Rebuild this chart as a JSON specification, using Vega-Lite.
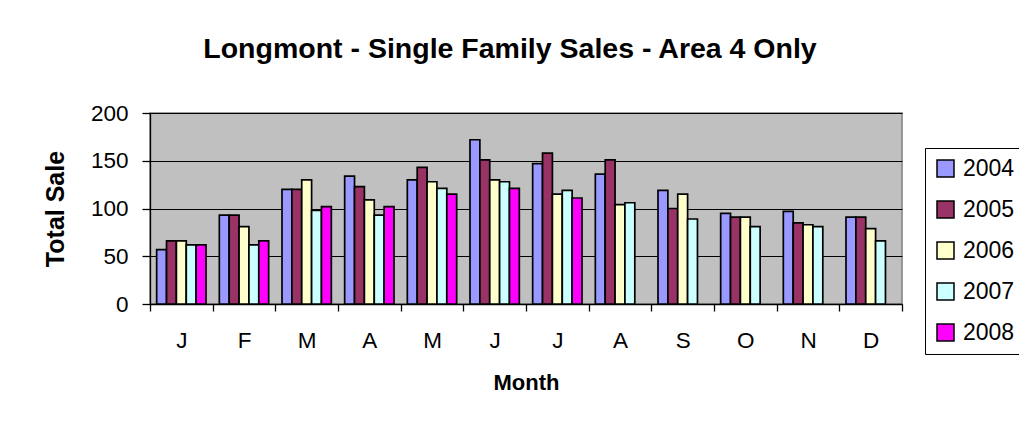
{
  "$schema": "https://vega.github.io/schema/vega-lite/v6.json",
  "autosize": "none",
  "padding": {"left": 150, "top": 113, "right": 117, "bottom": 125},
  "width": 752,
  "height": 191,
  "background": "white",
  "title": {
    "text": "Longmont - Single Family Sales - Area 4 Only",
    "font": "Liberation Sans",
    "fontSize": 28.5,
    "fontWeight": "bold",
    "color": "#000000",
    "anchor": "middle",
    "dx": -16,
    "offset": 39
  },
  "data": {
    "values": [
      {"month": "Jan", "year": "2004", "sales": 57},
      {"month": "Jan", "year": "2005", "sales": 66},
      {"month": "Jan", "year": "2006", "sales": 66},
      {"month": "Jan", "year": "2007", "sales": 62},
      {"month": "Jan", "year": "2008", "sales": 62},
      {"month": "Feb", "year": "2004", "sales": 93},
      {"month": "Feb", "year": "2005", "sales": 93},
      {"month": "Feb", "year": "2006", "sales": 81},
      {"month": "Feb", "year": "2007", "sales": 62},
      {"month": "Feb", "year": "2008", "sales": 66},
      {"month": "Mar", "year": "2004", "sales": 120},
      {"month": "Mar", "year": "2005", "sales": 120},
      {"month": "Mar", "year": "2006", "sales": 130},
      {"month": "Mar", "year": "2007", "sales": 98},
      {"month": "Mar", "year": "2008", "sales": 102},
      {"month": "Apr", "year": "2004", "sales": 134},
      {"month": "Apr", "year": "2005", "sales": 123},
      {"month": "Apr", "year": "2006", "sales": 109},
      {"month": "Apr", "year": "2007", "sales": 93},
      {"month": "Apr", "year": "2008", "sales": 102},
      {"month": "May", "year": "2004", "sales": 130},
      {"month": "May", "year": "2005", "sales": 143},
      {"month": "May", "year": "2006", "sales": 128},
      {"month": "May", "year": "2007", "sales": 121},
      {"month": "May", "year": "2008", "sales": 115},
      {"month": "Jun", "year": "2004", "sales": 172},
      {"month": "Jun", "year": "2005", "sales": 151},
      {"month": "Jun", "year": "2006", "sales": 130},
      {"month": "Jun", "year": "2007", "sales": 128},
      {"month": "Jun", "year": "2008", "sales": 121},
      {"month": "Jul", "year": "2004", "sales": 147},
      {"month": "Jul", "year": "2005", "sales": 158},
      {"month": "Jul", "year": "2006", "sales": 115},
      {"month": "Jul", "year": "2007", "sales": 119},
      {"month": "Jul", "year": "2008", "sales": 111},
      {"month": "Aug", "year": "2004", "sales": 136},
      {"month": "Aug", "year": "2005", "sales": 151},
      {"month": "Aug", "year": "2006", "sales": 104},
      {"month": "Aug", "year": "2007", "sales": 106},
      {"month": "Sep", "year": "2004", "sales": 119},
      {"month": "Sep", "year": "2005", "sales": 100},
      {"month": "Sep", "year": "2006", "sales": 115},
      {"month": "Sep", "year": "2007", "sales": 89},
      {"month": "Oct", "year": "2004", "sales": 95},
      {"month": "Oct", "year": "2005", "sales": 91},
      {"month": "Oct", "year": "2006", "sales": 91},
      {"month": "Oct", "year": "2007", "sales": 81},
      {"month": "Nov", "year": "2004", "sales": 97},
      {"month": "Nov", "year": "2005", "sales": 85},
      {"month": "Nov", "year": "2006", "sales": 83},
      {"month": "Nov", "year": "2007", "sales": 81},
      {"month": "Dec", "year": "2004", "sales": 91},
      {"month": "Dec", "year": "2005", "sales": 91},
      {"month": "Dec", "year": "2006", "sales": 79},
      {"month": "Dec", "year": "2007", "sales": 66}
    ]
  },
  "mark": {"type": "bar", "stroke": "#000000", "strokeWidth": 1.7},
  "encoding": {
    "x": {
      "field": "month",
      "type": "nominal",
      "sort": ["Jan","Feb","Mar","Apr","May","Jun","Jul","Aug","Sep","Oct","Nov","Dec"],
      "scale": {"paddingInner": 0, "paddingOuter": 0},
      "axis": {
        "title": "Month",
        "titleFontSize": 22,
        "labelExpr": "substring(datum.label, 0, 1)",
        "labelAngle": 0,
        "tickBand": "extent",
        "tickSize": 7,
        "tickColor": "#000000",
        "domainColor": "#000000",
        "labelPadding": 18,
        "titlePadding": 21,
        "grid": false
      }
    },
    "xOffset": {
      "field": "year",
      "type": "nominal",
      "scale": {"paddingInner": 0, "paddingOuter": 0.675}
    },
    "y": {
      "field": "sales",
      "type": "quantitative",
      "scale": {"domain": [0, 200], "nice": false},
      "axis": {
        "title": "Total Sale",
        "titleFontSize": 25,
        "values": [0, 50, 100, 150, 200],
        "tickSize": 8,
        "tickColor": "#000000",
        "domainColor": "#000000",
        "labelPadding": 14,
        "titlePadding": 22,
        "grid": true,
        "gridColor": "#000000",
        "gridWidth": 1
      }
    },
    "color": {
      "field": "year",
      "type": "nominal",
      "scale": {
        "domain": ["2004","2005","2006","2007","2008"],
        "range": ["#9999FF","#993366","#FFFFCC","#CCFFFF","#FF00FF"]
      },
      "legend": {
        "title": null,
        "orient": "none",
        "legendX": 775,
        "legendY": 35,
        "symbolType": "square",
        "symbolSize": 289,
        "symbolStrokeColor": "#000000",
        "symbolStrokeWidth": 1.5,
        "labelOffset": 6,
        "rowPadding": 17,
        "padding": 9,
        "strokeColor": "#000000",
        "fillColor": "#FFFFFF"
      }
    }
  },
  "config": {
    "font": "Liberation Sans",
    "view": {"fill": "#C0C0C0", "stroke": "#808080", "strokeWidth": 1.5},
    "axis": {
      "labelFont": "Liberation Sans",
      "labelFontSize": 22.5,
      "labelColor": "#000000",
      "titleFont": "Liberation Sans",
      "titleFontWeight": "bold",
      "titleColor": "#000000",
      "domainWidth": 1.3,
      "tickWidth": 1.3
    },
    "legend": {
      "labelFont": "Liberation Sans",
      "labelFontSize": 23,
      "labelColor": "#000000",
      "strokeWidth": 1
    }
  }
}
